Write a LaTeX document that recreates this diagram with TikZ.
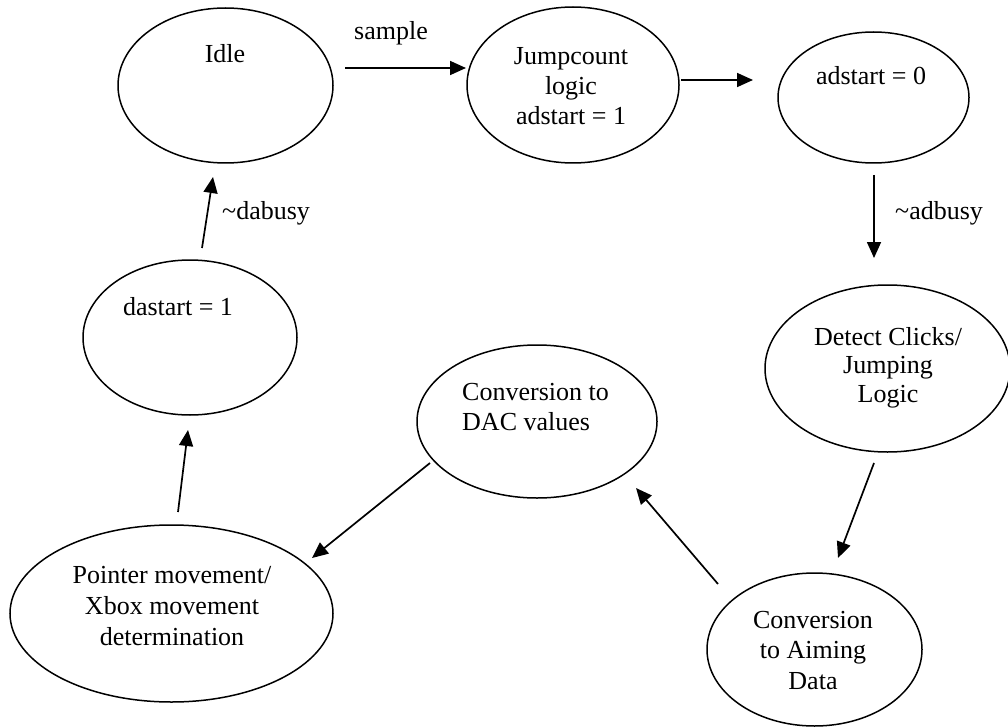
\documentclass[tikz,border=0pt]{standalone}
\usepackage{fontspec}
\setmainfont{Liberation Serif}
\usetikzlibrary{arrows.meta,shapes.geometric}
\tikzset{
  state/.style={draw=black, line width=1.5pt, ellipse, inner sep=0pt},
  txt/.style={anchor=base, inner sep=0pt, font=\fontsize{26}{30}\selectfont},
  txtl/.style={txt, anchor=base west},
  flow/.style={line width=1.7pt, -{Triangle[length=16pt,width=14pt]}}
}
\begin{document}
\begin{tikzpicture}[x=1pt, y=-1pt]
\useasboundingbox (0,0) rectangle (1008,727);

% states
\node[state, minimum width=215pt, minimum height=155pt] (idle)   at (225.5,85.5) {};
\node[state, minimum width=212pt, minimum height=156pt] (jump)   at (573,85) {};
\node[state, minimum width=191pt, minimum height=131pt] (ads0)   at (873.5,97.5) {};
\node[state, minimum width=245pt, minimum height=167pt] (detect) at (887.5,368.5) {};
\node[state, minimum width=215pt, minimum height=153pt] (aim)    at (814.5,649.5) {};
\node[state, minimum width=240pt, minimum height=153pt] (dac)    at (537,421.5) {};
\node[state, minimum width=323pt, minimum height=177pt] (ptr)    at (171.5,613.5) {};
\node[state, minimum width=214pt, minimum height=155pt] (das1)   at (190,337.5) {};

% state texts
\node[txt] (idle-t)  at (225,63) {Idle};
\node[txt] (jump-t1) at (571,65) {Jumpcount};
\node[txt] (jump-t2) at (571,95) {logic};
\node[txt] (jump-t3) at (571,125) {adstart = 1};
\node[txt] (ads0-t)  at (871,85) {adstart = 0};
\node[txt] (det-t1)  at (888,345) {Detect Clicks/};
\node[txt] (det-t2)  at (888,373.5) {Jumping};
\node[txt] (det-t3)  at (888,402) {Logic};
\node[txt] (aim-t1)  at (813,628) {Conversion};
\node[txt] (aim-t2)  at (813,658) {to Aiming};
\node[txt] (aim-t3)  at (813,689) {Data};
\node[txtl] (dac-t1) at (462,400) {Conversion to};
\node[txtl] (dac-t2) at (462,430) {DAC values};
\node[txt] (ptr-t1)  at (172,583) {Pointer movement/};
\node[txt] (ptr-t2)  at (172,614) {Xbox movement};
\node[txt] (ptr-t3)  at (172,645) {determination};
\node[txt] (das1-t)  at (178,315) {dastart = 1};

% transition end points
\coordinate (a1s) at (345,68);  \coordinate (a1e) at (466,68);
\coordinate (a2s) at (681,80);  \coordinate (a2e) at (753,80);
\coordinate (a3s) at (874,175); \coordinate (a3e) at (874,258);
\coordinate (a4s) at (874,463); \coordinate (a4e) at (838,558);
\coordinate (a5s) at (718,584); \coordinate (a5e) at (636,488);
\coordinate (a6s) at (430,463); \coordinate (a6e) at (312,558);
\coordinate (a7s) at (178,512); \coordinate (a7e) at (188,430);
\coordinate (a8s) at (202,248); \coordinate (a8e) at (213,177);

% transitions
\draw[flow] (a1s) -- (a1e);
\draw[flow] (a2s) -- (a2e);
\draw[flow] (a3s) -- (a3e);
\draw[flow] (a4s) -- (a4e);
\draw[flow] (a5s) -- (a5e);
\draw[flow] (a6s) -- (a6e);
\draw[flow] (a7s) -- (a7e);
\draw[flow] (a8s) -- (a8e);

% transition labels
\node[txt]  (l-sample) at (391,40) {sample};
\node[txtl] (l-adbusy) at (895,220) {\char`~adbusy};
\node[txtl] (l-dabusy) at (222,220) {\char`~dabusy};
\end{tikzpicture}
\end{document}
